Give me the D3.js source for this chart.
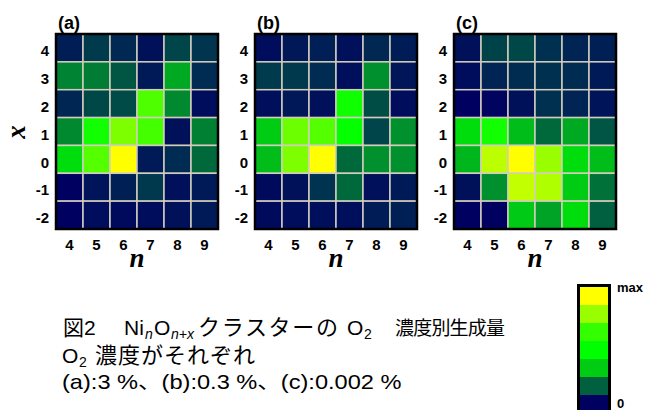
<!DOCTYPE html>
<html>
<head>
<meta charset="utf-8">
<script src="https://cdn.jsdelivr.net/npm/d3@7"></script>
<style>
  body { margin: 0; background: #fff; }
  svg { display: block; }
</style>
</head>
<body>
<div id="chart"></div>
<script>
// cluster size n (columns) and oxygen excess x (rows, top to bottom)
const nValues = [4, 5, 6, 7, 8, 9];
const xValues = [4, 3, 2, 1, 0, -1, -2];
const panelNames = ['(a)', '(b)', '(c)'];

// relative yield, 0 = none, 1 = max; rows follow xValues
const yieldA = [
  [0.05, 0.10, 0.07, 0.03, 0.12, 0.09],
  [0.22, 0.21, 0.15, 0.045, 0.28, 0.075],
  [0.066, 0.125, 0.128, 0.71, 0.23, 0.02],
  [0.23, 0.556, 0.79, 0.694, 0.03, 0.216],
  [0.39, 0.72, 1.0, 0.045, 0.074, 0.18],
  [0.0, 0.036, 0.055, 0.097, 0.028, 0.045],
  [0.0, 0.02, 0.018, 0.022, 0.03, 0.045]
];
const yieldB = [
  [0.02, 0.042, 0.054, 0.028, 0.07, 0.048],
  [0.10, 0.097, 0.074, 0.026, 0.24, 0.038],
  [0.026, 0.042, 0.028, 0.55, 0.134, 0.02],
  [0.333, 0.76, 0.72, 0.51, 0.12, 0.24],
  [0.31, 0.79, 1.0, 0.18, 0.24, 0.24],
  [0.017, 0.03, 0.089, 0.18, 0.028, 0.045],
  [0.017, 0.02, 0.026, 0.026, 0.048, 0.055]
];
const yieldC = [
  [0.03, 0.115, 0.125, 0.083, 0.062, 0.055],
  [0.02, 0.062, 0.076, 0.083, 0.076, 0.045],
  [0.0, 0.007, 0.03, 0.083, 0.062, 0.035],
  [0.39, 0.555, 0.31, 0.18, 0.28, 0.147],
  [0.30, 0.89, 1.0, 0.833, 0.39, 0.31],
  [0.03, 0.24, 0.9, 0.87, 0.333, 0.195],
  [0.0, 0.0, 0.33, 0.27, 0.39, 0.167]
];

const colorStops = ['#000060', '#006040', '#00cc14', '#00ff00', '#33ff00', '#99ff00', '#ffff00'];
const legendLabels = ['max', '0'];

const width = 648, height = 410;
const font = '"Liberation Sans", Arial, "Noto Sans CJK JP", sans-serif';
const serif = '"Liberation Serif", "Times New Roman", serif';

const svg = d3.select('#chart').append('svg')
  .attr('width', width).attr('height', height)
  .style('font-family', font);

const color = d3.scaleLinear()
  .domain(colorStops.map((c, i) => i / (colorStops.length - 1)))
  .range(colorStops)
  .interpolate(d3.interpolateRgb);

const panelLeft = [56, 255, 454];
const panelW = 162, panelTop = 34, panelH = 195;
const x = d3.scaleBand().domain(nValues).range([0, panelW]);
const y = d3.scaleBand().domain(xValues).range([0, panelH]);

[yieldA, yieldB, yieldC].forEach((grid, p) => {
  const g = svg.append('g').attr('transform', 'translate(' + panelLeft[p] + ',' + panelTop + ')');
  const cells = [];
  grid.forEach((row, i) => row.forEach((v, j) => cells.push({ n: nValues[j], x: xValues[i], v: v })));

  g.selectAll('rect.cell').data(cells).enter().append('rect')
    .attr('class', 'cell')
    .attr('x', d => x(d.n))
    .attr('y', d => y(d.x))
    .attr('width', x.bandwidth())
    .attr('height', y.bandwidth())
    .attr('fill', d => color(d.v))
    .attr('stroke', '#d4cdbd')
    .attr('stroke-width', 1.5);

  g.append('rect')
    .attr('width', panelW).attr('height', panelH)
    .attr('fill', 'none').attr('stroke', '#000').attr('stroke-width', 2.5);

  const yAxis = g.append('g').call(d3.axisLeft(y).tickSize(0).tickPadding(7));
  yAxis.select('.domain').remove();
  yAxis.selectAll('text').attr('dy', '0.55em')
    .style('font-family', font).style('font-size', '15px').style('font-weight', 'bold').attr('fill', '#000');

  const xAxis = g.append('g').attr('transform', 'translate(0,' + panelH + ')')
    .call(d3.axisBottom(x).tickSize(0).tickPadding(10));
  xAxis.select('.domain').remove();
  xAxis.selectAll('text')
    .style('font-family', font).style('font-size', '15px').style('font-weight', 'bold').attr('fill', '#000');

  g.append('text')
    .attr('x', panelW / 2).attr('y', 267 - panelTop)
    .attr('text-anchor', 'middle')
    .style('font-family', serif).style('font-style', 'italic').style('font-weight', 'bold')
    .style('font-size', '27px')
    .text('n');

  g.append('text')
    .attr('x', 2).attr('y', -5)
    .style('font-size', '18px').style('font-weight', 'bold')
    .text(panelNames[p]);
});

// y axis title
svg.append('text')
  .attr('transform', 'translate(25,132) rotate(-90)')
  .attr('text-anchor', 'middle')
  .style('font-family', serif).style('font-style', 'italic').style('font-weight', 'bold')
  .style('font-size', '27px')
  .text('x');

// colour bar
const bandY = d3.scaleBand().domain(d3.range(colorStops.length)).range([413, 287]);
const legend = svg.append('g');
legend.selectAll('rect').data(colorStops).enter().append('rect')
  .attr('x', 580).attr('width', 28)
  .attr('y', (d, i) => bandY(i))
  .attr('height', bandY.bandwidth())
  .attr('fill', d => d);
legend.append('rect')
  .attr('x', 578.5).attr('y', 285.5).attr('width', 31).attr('height', 140)
  .attr('fill', 'none').attr('stroke', '#000').attr('stroke-width', 3);
legend.selectAll('text').data(legendLabels).enter().append('text')
  .attr('x', 617)
  .attr('y', (d, i) => i === 0 ? 292 : 408)
  .style('font-size', '13px').style('font-weight', 'bold')
  .text(d => d);

// caption
const cap = svg.append('g').style('font-size', '21px').attr('fill', '#000');
// one run of the caption: x, baseline y, text, font size, italic, fitted length
const run = (t, px, py, text, size, italic, len) => {
  const s = t.append('tspan').attr('x', px).attr('y', py).text(text)
    .style('font-size', size + 'px');
  if (italic) s.style('font-style', 'italic');
  if (len) s.attr('textLength', len).attr('lengthAdjust', 'spacing');
  return s;
};

const l1 = cap.append('text');
run(l1, 63, 335, '図2', 21);
run(l1, 124, 335, 'Ni', 21);
run(l1, 145, 339, 'n', 14, true);
run(l1, 154, 335, 'O', 21);
run(l1, 171, 339, 'n+x', 14, true);
run(l1, 198, 335, 'クラスターの', 22, false, 140);
run(l1, 347, 335, 'O', 21);
run(l1, 364, 339, '2', 14);
run(l1, 395, 335, '濃度別生成量', 19, false, 110);

const l2 = cap.append('text');
run(l2, 62, 363, 'O', 21);
run(l2, 79, 367, '2', 14);
run(l2, 95, 363, '濃度がそれぞれ', 22, false, 160);

cap.append('text')
  .attr('transform', 'translate(62,389) scale(1.18,1)')
  .style('font-size', '20px')
  .text('(a):3 %、(b):0.3 %、(c):0.002 %');
</script>
</body>
</html>
